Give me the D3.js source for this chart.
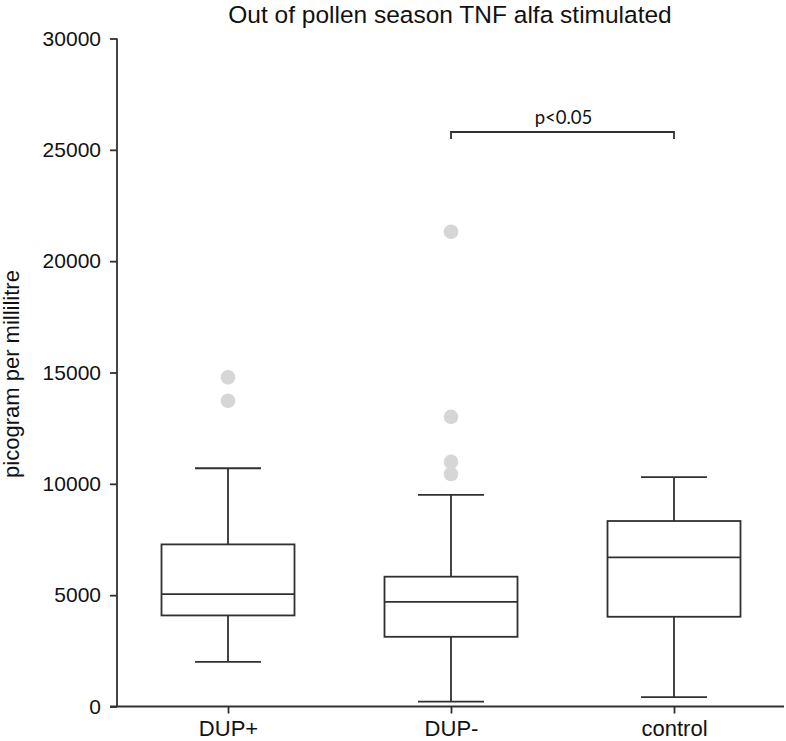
<!DOCTYPE html>
<html><head><meta charset="utf-8">
<script src="https://cdn.jsdelivr.net/npm/d3@7"></script>
<style>body{margin:0;background:#fff}svg{display:block}</style>
</head><body>
<svg id="c" width="786" height="741"></svg>
<script>
const categories = ["DUP+", "DUP-", "control"];
const whiskerLow = [2000, 220, 420];
const q1 = [4090, 3130, 4030];
const median = [5050, 4700, 6700];
const q3 = [7280, 5830, 8330];
const whiskerHigh = [10700, 9500, 10300];
const outliers = [[14780, 13730], [21320, 13010, 10990, 10440], []];
const yTicks = [0, 5000, 10000, 15000, 20000, 25000, 30000];
const title = "Out of pollen season TNF alfa stimulated";
const yLabel = "picogram per millilitre";
const sigFrom = "DUP-", sigTo = "control", sigLevel = 25800, sigText = "p<0.05";

const svg = d3.select("#c");
const y = d3.scaleLinear().domain([0, 30000]).range([706.5, 38.5]);
const x = d3.scalePoint().domain(categories).range([228, 674]);
const boxW = 133, capW = 66;
const stroke = "#303030";
const sw = 1.8;
const font = "'Liberation Sans', Arial, sans-serif";

// title
svg.append("text").attr("x", 450).attr("y", 22.5).attr("text-anchor", "middle")
  .attr("font-family", font).attr("font-size", 24.5).attr("fill", "#111").text(title);

// y axis
const yAxis = d3.axisLeft(y).tickValues(yTicks).tickSize(7).tickPadding(9).tickFormat(d3.format("d"));
const gy = svg.append("g").attr("transform", "translate(117,0)").call(yAxis);
gy.select(".domain").attr("stroke", stroke).attr("stroke-width", sw).attr("d", `M0,${y(30000)}V${y(0)}`);
gy.selectAll(".tick line").attr("stroke", stroke).attr("stroke-width", sw);
gy.selectAll(".tick text").attr("font-family", font).attr("font-size", 21).attr("fill", "#111");

// x axis
const xAxis = d3.axisBottom(x).tickSize(7).tickPadding(7);
const gx = svg.append("g").attr("transform", `translate(0,${y(0)})`).call(xAxis);
gx.select(".domain").attr("stroke", stroke).attr("stroke-width", sw).attr("d", "M110,0H784");
gx.selectAll(".tick line").attr("stroke", stroke).attr("stroke-width", sw);
gx.selectAll(".tick text").attr("font-family", font).attr("font-size", 22).attr("fill", "#111");

// y label
svg.append("text").attr("transform", `translate(19,374) rotate(-90)`)
  .attr("text-anchor", "middle").attr("font-family", font).attr("font-size", 22).attr("fill", "#111").text(yLabel);

// boxes
categories.forEach((c, i) => {
  const g = svg.append("g").attr("stroke", stroke).attr("stroke-width", sw).attr("fill", "none");
  const cx = x(c);
  g.append("line").attr("x1", cx).attr("x2", cx).attr("y1", y(whiskerHigh[i])).attr("y2", y(q3[i]));
  g.append("line").attr("x1", cx).attr("x2", cx).attr("y1", y(q1[i])).attr("y2", y(whiskerLow[i]));
  g.append("line").attr("x1", cx - capW/2).attr("x2", cx + capW/2).attr("y1", y(whiskerHigh[i])).attr("y2", y(whiskerHigh[i]));
  g.append("line").attr("x1", cx - capW/2).attr("x2", cx + capW/2).attr("y1", y(whiskerLow[i])).attr("y2", y(whiskerLow[i]));
  g.append("rect").attr("x", cx - boxW/2).attr("width", boxW).attr("y", y(q3[i])).attr("height", y(q1[i]) - y(q3[i])).attr("fill", "#fff");
  g.append("line").attr("x1", cx - boxW/2).attr("x2", cx + boxW/2).attr("y1", y(median[i])).attr("y2", y(median[i]));
  svg.selectAll(null).data(outliers[i]).enter().append("circle")
    .attr("cx", cx).attr("cy", d => y(d)).attr("r", 7.3).attr("fill", "#d6d6d6");
});

// significance bracket
const bx1 = x(sigFrom), bx2 = x(sigTo), by = y(sigLevel);
svg.append("path").attr("d", `M${bx1},${by+7}V${by}H${bx2}V${by+7}`)
  .attr("fill", "none").attr("stroke", stroke).attr("stroke-width", sw);
svg.append("text").attr("x", (bx1+bx2)/2 + 1).attr("y", by - 8).attr("text-anchor", "middle")
  .attr("font-family", "Lato, 'Open Sans', sans-serif").attr("font-size", 18.5).attr("fill", "#111").text(sigText);
</script>
</body></html>
